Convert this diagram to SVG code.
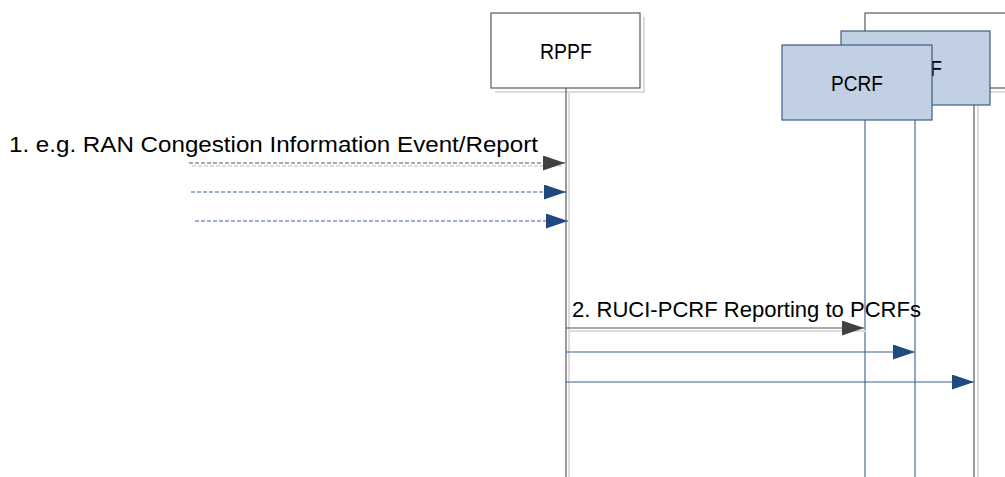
<svg xmlns="http://www.w3.org/2000/svg" width="1005" height="477" viewBox="0 0 1005 477">
  <style>
    text { font-family: "Liberation Sans", Arial, sans-serif; fill: #000; }
    .lbl { font-size: 22px; }
    .name { font-size: 22px; text-anchor: middle; }
    .box { fill: #ffffff; stroke: #595959; stroke-width: 1.2; }
    .pbox { fill: #c2d0e3; stroke: #3a5c8c; stroke-width: 1.2; }
    .shadow { fill: none; stroke: #dcdcdc; stroke-width: 2; }
    .life { stroke: #595959; stroke-width: 1.2; fill: none; }
    .blife { stroke: #4a6c9c; stroke-width: 1.2; fill: none; }
    .msg-g { stroke: #555555; stroke-width: 1.2; fill: none; }
    .msg-b { stroke: #3f6296; stroke-width: 1.2; fill: none; }
    .dash { stroke-dasharray: 4 2; }
  </style>
  <defs>
    <marker id="headG" viewBox="0 0 22 15" refX="22" refY="7.5" markerWidth="22" markerHeight="15" markerUnits="userSpaceOnUse" orient="auto">
      <path d="M0,0 L22,7.5 L0,15 Z" fill="#404040"/>
    </marker>
    <marker id="headB" viewBox="0 0 22 15" refX="22" refY="7.5" markerWidth="22" markerHeight="15" markerUnits="userSpaceOnUse" orient="auto">
      <path d="M0,0 L22,7.5 L0,15 Z" fill="#1f4a80"/>
    </marker>
  </defs>

  <!-- back PCRF (third instance, mostly hidden) -->
  <g id="pcrf3">
    <path class="shadow" d="M869,92 H1005 M978,92 V477"/>
    <rect class="box" x="865" y="13" width="160" height="75"/>
    <line class="life" x1="974" y1="88" x2="974" y2="477"/>
  </g>

  <!-- RPPF -->
  <g id="rppf">
    <path class="shadow" d="M644,17 V92 H495 M569,92 V477"/>
    <rect class="box" x="491" y="13" width="149" height="75"/>
    <text class="name" x="566" y="59" textLength="52" lengthAdjust="spacingAndGlyphs">RPPF</text>
    <line class="life" x1="566" y1="88" x2="566" y2="477"/>
  </g>

  <!-- second PCRF -->
  <g id="pcrf2">
    <rect class="pbox" x="841" y="31" width="149" height="74"/>
    <text class="name" x="916" y="76" textLength="52" lengthAdjust="spacingAndGlyphs">PCRF</text>
    <line class="blife" x1="915" y1="105" x2="915" y2="477"/>
  </g>

  <!-- front PCRF -->
  <g id="pcrf1">
    <rect class="pbox" x="782" y="45" width="150" height="75"/>
    <text class="name" x="857" y="91" textLength="52" lengthAdjust="spacingAndGlyphs">PCRF</text>
    <line class="blife" x1="865" y1="120" x2="865" y2="477"/>
  </g>

  <!-- messages -->
  <g id="connectors">
    <text class="lbl" x="9" y="152" textLength="529" lengthAdjust="spacingAndGlyphs">1. e.g. RAN Congestion Information Event/Report</text>
    <line class="shadow dash" x1="192" y1="166" x2="566" y2="166"/>
    <line class="msg-g dash" x1="189" y1="163" x2="565" y2="163" marker-end="url(#headG)"/>
    <line class="msg-b dash" x1="191" y1="192" x2="566" y2="192" marker-end="url(#headB)"/>
    <line class="msg-b dash" x1="195" y1="221" x2="568" y2="221" marker-end="url(#headB)"/>

    <text class="lbl" x="572" y="317" textLength="349" lengthAdjust="spacingAndGlyphs">2. RUCI-PCRF Reporting to PCRFs</text>
    <line class="shadow" x1="568" y1="331" x2="866" y2="331"/>
    <line class="msg-g" x1="566" y1="328" x2="864" y2="328" marker-end="url(#headG)"/>
    <line class="msg-b" x1="566" y1="352" x2="915" y2="352" marker-end="url(#headB)"/>
    <line class="msg-b" x1="566" y1="382" x2="974" y2="382" marker-end="url(#headB)"/>
  </g>
</svg>
